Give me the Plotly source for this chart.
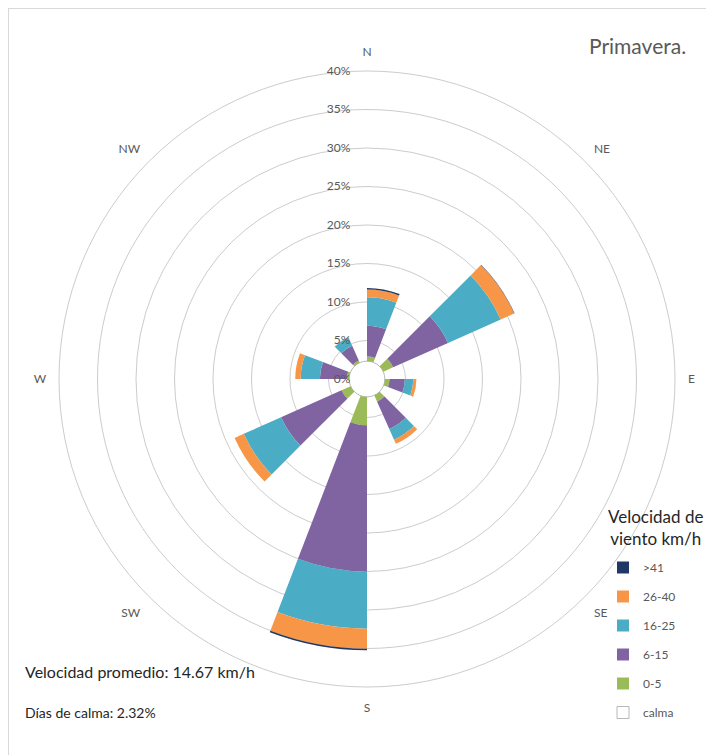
import numpy as np
import plotly.graph_objects as go

# direcciones (grados, sentido horario desde el norte)
directions = ['N', 'NE', 'E', 'SE', 'S', 'SW', 'W', 'NW']
dir_deg = [0, 45, 90, 135, 180, 225, 270, 315]

calm = 2.32  # % dias de calma
speed_labels = ['0-5', '6-15', '16-25', '26-40', '>41']
v0_5 = [0.6, 1.4, 0.6, 0.9, 3.7, 1.3, 0.3, 0.3]
v6_15 = [4.0, 7.8, 2.0, 3.9, 19.0, 8.6, 3.5, 2.1]
v16_25 = [3.7, 7.5, 1.1, 1.5, 7.4, 5.3, 2.5, 1.2]
v26_40 = [1.0, 1.9, 0.4, 0.6, 2.6, 1.3, 0.7, 0.05]
v41 = [0.2, 0.05, 0.0, 0.0, 0.2, 0.0, 0.0, 0.0]

colors = ['#9BBB59', '#8064A2', '#4BACC6', '#F79646', '#1F3864']
series = [v0_5, v6_15, v16_25, v26_40, v41]

FONT = 'Lato, Open Sans, sans-serif'
W, H = 714, 755
OFF = 8  # margen del body de la pagina


def px_x(x):
    return (x - OFF) / W


def px_y(y):
    return 1 - (y - OFF) / H


wedge = 21
theta = [d + wedge / 2 for d in dir_deg]

fig = go.Figure()

fig.add_trace(go.Barpolar(
    r=[calm], theta=[0], width=[360], base=0, name='calma',
    marker=dict(color='white', line=dict(color='#A6A6A6', width=0.8)),
    legendrank=6, legendgroup='calma', hoverinfo='skip'))

base = np.full(len(dir_deg), calm)
for i, (lab, vals, col) in enumerate(zip(speed_labels, series, colors)):
    fig.add_trace(go.Barpolar(
        r=vals, theta=theta, width=[wedge] * len(theta), base=base.tolist(),
        name=lab, marker=dict(color=col, line=dict(width=0)),
        legendrank=5 - i, legendgroup=lab))
    base = base + np.array(vals)

fig.update_layout(
    width=W, height=H,
    margin=dict(l=0, r=0, t=0, b=0),
    paper_bgcolor='white',
    font=dict(family=FONT, color='#595959', size=12),
    polar=dict(
        domain=dict(x=[px_x(59), px_x(675)], y=[px_y(687), px_y(71)]),
        bgcolor='white',
        barmode='overlay',
        radialaxis=dict(range=[0, 40], dtick=5, ticksuffix='%', angle=90,
                        side='counterclockwise', tickangle=90,
                        showline=False, ticks='outside', ticklen=12,
                        tickcolor='rgba(0,0,0,0)', gridcolor='#CCCCCC',
                        gridwidth=1, tickfont=dict(size=12, color='#595959')),
        angularaxis=dict(rotation=90, direction='clockwise',
                         tickmode='array', tickvals=dir_deg, ticktext=directions,
                         showgrid=False, showline=True, linecolor='#CCCCCC',
                         linewidth=1, ticks='outside',
                         ticklen=10, tickcolor='rgba(0,0,0,0)',
                         tickfont=dict(size=12, color='#595959')),
    ),
    legend=dict(x=px_x(603), y=px_y(553), xanchor='left', yanchor='top',
                bgcolor='rgba(0,0,0,0)',
                tracegroupgap=10, font=dict(size=12, color='#595959'),
                itemclick=False),
    annotations=[
        dict(text='Velocidad de<br>viento km/h', x=px_x(655), y=px_y(527),
             xref='paper', yref='paper', xanchor='center', yanchor='middle',
             showarrow=False, font=dict(size=17, color='#262626')),
        dict(text='Primavera.', x=px_x(637), y=px_y(45), xref='paper', yref='paper',
             xanchor='center', yanchor='middle',
             showarrow=False, font=dict(size=21, color='#595959')),
        dict(text='Velocidad promedio: 14.67 km/h', x=px_x(23), y=px_y(671),
             xref='paper', yref='paper', xanchor='left', yanchor='middle',
             showarrow=False, font=dict(size=16, color='#262626')),
        dict(text='Días de calma: 2.32%', x=px_x(23), y=px_y(712),
             xref='paper', yref='paper', xanchor='left', yanchor='middle',
             showarrow=False, font=dict(size=14, color='#262626')),
    ],
    shapes=[
        dict(type='line', xref='paper', yref='paper', x0=0, x1=1,
             y0=1, y1=1, line=dict(color='#D9D9D9', width=2)),
        dict(type='line', xref='paper', yref='paper', x0=0, x1=0,
             y0=0, y1=1, line=dict(color='#D9D9D9', width=2)),
    ],
)

fig.write_html("out.html")
